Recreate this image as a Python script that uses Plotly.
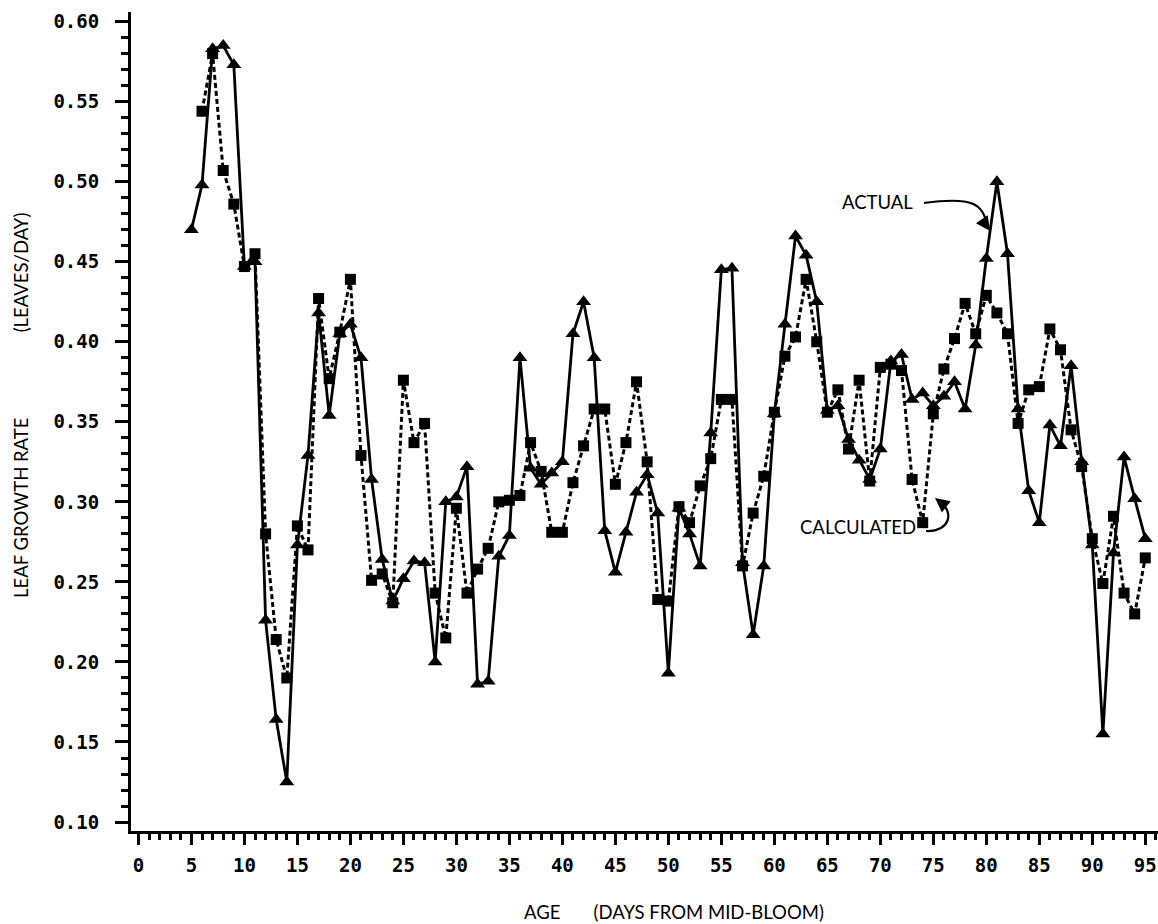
import plotly.graph_objects as go

# ---------------- data ----------------
days_actual = list(range(5, 96))
actual = [0.470, 0.498, 0.583, 0.585, 0.573, 0.447, 0.450, 0.226, 0.164, 0.125,
          0.273, 0.329, 0.418, 0.354, 0.405, 0.411, 0.390, 0.314, 0.264, 0.238,
          0.252, 0.263, 0.262, 0.200, 0.300, 0.303, 0.322, 0.186, 0.188, 0.266,
          0.279, 0.390, 0.321, 0.311, 0.318, 0.325, 0.405, 0.425, 0.390, 0.282,
          0.256, 0.281, 0.306, 0.317, 0.293, 0.193, 0.296, 0.280, 0.260, 0.343,
          0.445, 0.446, 0.262, 0.217, 0.260, 0.355, 0.411, 0.466, 0.454, 0.425,
          0.357, 0.360, 0.339, 0.326, 0.314, 0.333, 0.388, 0.392, 0.364, 0.368,
          0.360, 0.366, 0.375, 0.358, 0.398, 0.452, 0.500, 0.455, 0.358, 0.307,
          0.287, 0.348, 0.335, 0.385, 0.325, 0.273, 0.155, 0.268, 0.328, 0.302,
          0.277]

days_calc = list(range(6, 96))
calculated = [0.544, 0.580, 0.507, 0.486, 0.447, 0.455, 0.280, 0.214, 0.190, 0.285,
              0.270, 0.427, 0.377, 0.406, 0.439, 0.329, 0.251, 0.255, 0.237, 0.376,
              0.337, 0.349, 0.243, 0.215, 0.296, 0.243, 0.258, 0.271, 0.300, 0.301,
              0.304, 0.337, 0.319, 0.281, 0.281, 0.312, 0.335, 0.358, 0.358, 0.311,
              0.337, 0.375, 0.325, 0.239, 0.238, 0.297, 0.287, 0.310, 0.327, 0.364,
              0.364, 0.260, 0.293, 0.316, 0.356, 0.391, 0.403, 0.439, 0.400, 0.356,
              0.370, 0.333, 0.376, 0.313, 0.384, 0.386, 0.382, 0.314, 0.287, 0.355,
              0.383, 0.402, 0.424, 0.405, 0.429, 0.418, 0.405, 0.349, 0.370, 0.372,
              0.408, 0.395, 0.345, 0.322, 0.277, 0.249, 0.291, 0.243, 0.230, 0.265]

x_ticks = list(range(0, 96, 5))
y_ticks = [0.10, 0.15, 0.20, 0.25, 0.30, 0.35, 0.40, 0.45, 0.50, 0.55, 0.60]

# ---------------- figure ----------------
W, H = 1158, 924
ML, MR, MT, MB = 131, 0, 12, 93
XR = [-0.70, 96.2]
YR = [0.0944, 0.606]


def px2data(px, py):
    pw = W - ML - MR
    ph = H - MT - MB
    x = XR[0] + (px - ML) / pw * (XR[1] - XR[0])
    y = YR[1] - (py - MT) / ph * (YR[1] - YR[0])
    return x, y


def px2paper(px, py):
    pw = W - ML - MR
    ph = H - MT - MB
    return (px - ML) / pw, (H - MB - py) / ph


fig = go.Figure()

fig.add_trace(go.Scatter(
    x=days_calc, y=calculated, mode="lines+markers", name="CALCULATED",
    line=dict(color="black", width=3, dash="5px,3px"),
    marker=dict(symbol="square", size=11, color="black"),
))
fig.add_trace(go.Scatter(
    x=days_actual, y=actual, mode="lines+markers", name="ACTUAL",
    line=dict(color="black", width=2.8),
    marker=dict(symbol="triangle-up", size=13, color="black"),
))

tickfont = dict(family="DejaVu Sans Mono", size=19, color="black", weight="bold")
labfont = dict(family="Lato", size=18.5, color="black")

fig.update_xaxes(
    range=XR, showgrid=False, zeroline=False,
    showline=True, linewidth=3, linecolor="black",
    tickmode="array", tickvals=x_ticks, ticktext=[str(v) for v in x_ticks],
    ticks="outside", ticklen=11, tickwidth=3, tickcolor="black",
    minor=dict(dtick=1, tick0=0, ticks="outside", ticklen=6, tickwidth=2.5, tickcolor="black"),
    tickfont=tickfont, ticklabelstandoff=4, ticklabeloverflow="allow",
)
fig.update_yaxes(
    range=YR, showgrid=False, zeroline=False,
    showline=True, linewidth=3, linecolor="black",
    tickmode="array", tickvals=y_ticks, ticktext=["%.2f" % v for v in y_ticks],
    ticks="outside", ticklen=13, tickwidth=3, tickcolor="black",
    minor=dict(dtick=0.01, tick0=0.10, ticks="outside", ticklen=7, tickwidth=2.5, tickcolor="black"),
    tickfont=tickfont, ticklabelstandoff=12,
)

annotations = []
# axis titles
ax_, ay_ = px2paper(21, 405)
annotations.append(dict(xref="paper", yref="paper", x=ax_, y=ay_, showarrow=False,
                        text="LEAF GROWTH RATE" + "\u00a0" * 18 + "(LEAVES/DAY)",
                        textangle=-90, font=labfont, xanchor="center", yanchor="middle"))
bx, by = px2paper(674, 912)
annotations.append(dict(xref="paper", yref="paper", x=bx, y=by, showarrow=False,
                        text="AGE" + "\u00a0" * 7 + "(DAYS FROM MID-BLOOM)",
                        font=labfont, xanchor="center", yanchor="middle"))

# series labels
tx, ty = px2data(877, 202)
annotations.append(dict(x=tx, y=ty, text="ACTUAL", showarrow=False, font=labfont,
                        xanchor="center", yanchor="middle"))
tx, ty = px2data(858, 527)
annotations.append(dict(x=tx, y=ty, text="CALCULATED", showarrow=False, font=labfont,
                        xanchor="center", yanchor="middle"))

# arrowheads
hx, hy = px2data(990, 231)
annotations.append(dict(x=hx, y=hy, text="", showarrow=True, arrowhead=2, arrowsize=1.3,
                        arrowwidth=2.2, arrowcolor="black", ax=-9, ay=-13))
hx, hy = px2data(935, 498)
annotations.append(dict(x=hx, y=hy, text="", showarrow=True, arrowhead=2, arrowsize=1.3,
                        arrowwidth=2.2, arrowcolor="black", ax=9, ay=7))


def path_from_px(points, cmd):
    parts = []
    for c, (px, py) in zip(cmd, points):
        dx, dy = px2data(px, py)
        parts.append(f"{c}{dx:.4f},{dy:.5f}")
    return " ".join(parts)


p1 = path_from_px([(924, 203), (975, 196), (982, 205), (987, 224)], ["M", "C", " ", " "])
p2 = path_from_px([(926, 531), (950, 532), (954, 512), (941, 503)], ["M", "C", " ", " "])
shapes = [
    dict(type="path", xref="x", yref="y", path=p1, line=dict(color="black", width=2.2)),
    dict(type="path", xref="x", yref="y", path=p2, line=dict(color="black", width=2.2)),
]

fig.update_layout(
    width=W, height=H,
    margin=dict(l=ML, r=MR, t=MT, b=MB, pad=0),
    plot_bgcolor="white", paper_bgcolor="white",
    showlegend=False,
    annotations=annotations, shapes=shapes,
)

fig.write_html(
    "out.html",
    config={"displayModeBar": False},
    post_script="document.body.style.margin='0';document.body.style.overflow='hidden';",
)
